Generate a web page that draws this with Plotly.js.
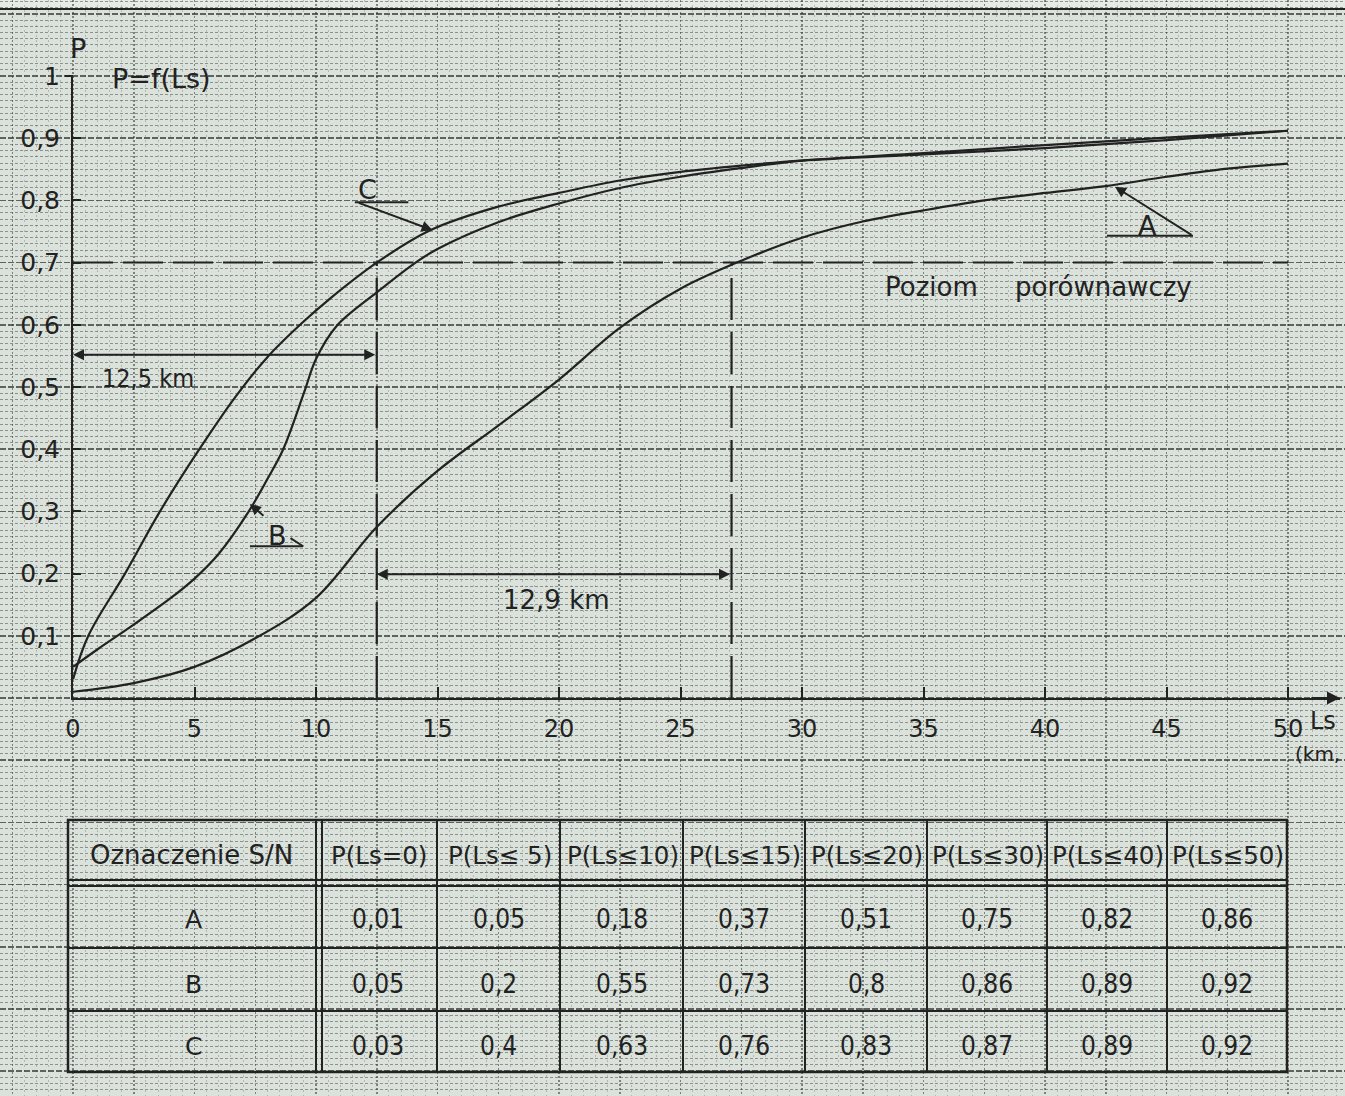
<!DOCTYPE html>
<html>
<head>
<meta charset="utf-8">
<script src="https://cdn.plot.ly/plotly-3.0.1.min.js"></script>
<style>html,body{margin:0;padding:0;background:#dbe2dc;} #chart{width:1345px;height:1096px;}</style>
</head>
<body>
<div id="chart"></div>
<script>
// ---------------- data ----------------
const lsA = [0, 2.5, 5, 7.5, 10, 12.5, 15, 17.5, 20, 22.5, 25, 27.5, 30, 32.5, 35, 37.5, 40, 42.5, 45, 47.5, 50];
const pA  = [0.01, 0.024, 0.05, 0.096, 0.161, 0.275, 0.365, 0.438, 0.512, 0.595, 0.658, 0.703, 0.74, 0.766, 0.784, 0.80, 0.812, 0.823, 0.838, 0.851, 0.859];

const lsB = [0, 1, 2.5, 4, 5, 6, 7.2, 8, 8.65, 9.5, 10, 10.85, 12.5, 14.1, 15, 17.5, 20, 22.5, 25, 27.5, 30, 35, 40, 45, 50];
const pB  = [0.05, 0.078, 0.118, 0.16, 0.192, 0.232, 0.298, 0.352, 0.40, 0.49, 0.545, 0.598, 0.652, 0.70, 0.722, 0.765, 0.795, 0.82, 0.838, 0.852, 0.864, 0.876, 0.889, 0.901, 0.912];

const lsC = [0, 0.63, 2.14, 3.58, 5.2, 6.7, 8, 9.4, 10.6, 12.5, 14.7, 17.5, 20, 22.5, 25, 27.5, 30, 35, 40, 45, 50];
const pC  = [0.03, 0.1, 0.2, 0.3, 0.4, 0.485, 0.548, 0.602, 0.643, 0.70, 0.752, 0.79, 0.812, 0.832, 0.846, 0.856, 0.864, 0.874, 0.884, 0.897, 0.912];

const refLevel = 0.7;            // "Poziom porównawczy"
const refSpan = [0, 50];
const markC = 12.5;              // C reaches the level
const markA = 27.1;              // A reaches the level
const arrow125Level = 0.552;
const arrow129Level = 0.199;

const xTickVals = [0, 5, 10, 15, 20, 25, 30, 35, 40, 45, 50];
const xTickText = ['0', '5', '10', '15', '20', '25', '30', '35', '40', '45', '50'];
const yTickVals = [0.1, 0.2, 0.3, 0.4, 0.5, 0.6, 0.7, 0.8, 0.9, 1];
const yTickText = ['0,1', '0,2', '0,3', '0,4', '0,5', '0,6', '0,7', '0,8', '0,9', '1'];

const tableHeader = ['Oznaczenie S/N', 'P(Ls=0)', 'P(Ls≤ 5)', 'P(Ls≤10)', 'P(Ls≤15)', 'P(Ls≤20)', 'P(Ls≤30)', 'P(Ls≤40)', 'P(Ls≤50)'];
const tableRows = ['A', 'B', 'C'];
const tableA = [0.01, 0.05, 0.18, 0.37, 0.51, 0.75, 0.82, 0.86];
const tableB = [0.05, 0.2, 0.55, 0.73, 0.8, 0.86, 0.89, 0.92];
const tableC = [0.03, 0.4, 0.63, 0.76, 0.83, 0.87, 0.89, 0.92];

// ---------------- styling ----------------
const W = 1345, H = 1096;
const FONT = 'DejaVu Sans, sans-serif';
const FONTC = 'DejaVu Sans Condensed, DejaVu Sans, sans-serif';
const INK = '#222222';
const PAPER = '#dbe2dc';
const X0 = 73, XEND = 1340, PX_PER_X = 24.3;
const Y0 = 698, YTOP = 76;

const curveLine = {color: INK, width: 2.2, shape: 'spline', smoothing: 1};
const traces = [
  {x: lsA, y: pA, mode: 'lines', line: curveLine, xaxis: 'x2', yaxis: 'y2', name: 'A', hoverinfo: 'x+y'},
  {x: lsB, y: pB, mode: 'lines', line: curveLine, xaxis: 'x2', yaxis: 'y2', name: 'B', hoverinfo: 'x+y'},
  {x: lsC, y: pC, mode: 'lines', line: curveLine, xaxis: 'x2', yaxis: 'y2', name: 'C', hoverinfo: 'x+y'},
  {x: refSpan, y: [refLevel, refLevel], mode: 'lines', line: {color: INK, width: 2, dash: '40px,10px'}, xaxis: 'x2', yaxis: 'y2', hoverinfo: 'skip'},
  {x: [markC, markC], y: [0, refLevel], mode: 'lines', line: {color: INK, width: 2.2, dash: '42px,12px'}, xaxis: 'x2', yaxis: 'y2', hoverinfo: 'skip'},
  {x: [markA, markA], y: [0, refLevel], mode: 'lines', line: {color: INK, width: 2.2, dash: '42px,12px'}, xaxis: 'x2', yaxis: 'y2', hoverinfo: 'skip'}
];

const shapes = [];
const annotations = [];
function bgLine(x0, y0, x1, y1, w) {
  shapes.push({type: 'line', xref: 'x', yref: 'y', x0, y0, x1, y1, line: {color: INK, width: w || 2}, layer: 'above'});
}
function dLine(x0, y0, x1, y1, w) {
  shapes.push({type: 'line', xref: 'x2', yref: 'y2', x0, y0, x1, y1, line: {color: INK, width: w || 2}, layer: 'above'});
}
function bgText(text, x, y, size, anchor, fam) {
  annotations.push({text, x, y, xref: 'x', yref: 'y', showarrow: false, xanchor: anchor || 'center', yanchor: 'middle',
    font: {family: fam || FONT, size: size || 24, color: INK}});
}
function dText(text, x, y, size, fam) {
  annotations.push({text, x, y, xref: 'x2', yref: 'y2', showarrow: false, xanchor: 'center', yanchor: 'middle',
    font: {family: fam || FONT, size: size || 25, color: INK}});
}
function dArrow(xh, yh, xt, yt, both) {
  annotations.push({text: '', x: xh, y: yh, ax: xt, ay: yt, xref: 'x2', yref: 'y2', axref: 'x2', ayref: 'y2',
    showarrow: true, arrowhead: 2, startarrowhead: 2, arrowside: both ? 'end+start' : 'end',
    arrowsize: 1.1, startarrowsize: 1.1, arrowwidth: 2, arrowcolor: INK});
}

// top strip of the scanned sheet
shapes.push({type: 'rect', xref: 'paper', yref: 'paper', x0: 0, x1: 1, y0: 1 - 8 / H, y1: 1, fillcolor: '#e6ebe6', line: {width: 0}, layer: 'below'});
bgLine(0, 9, W, 9, 2);

// "T" at the top of the P axis
bgLine(65, YTOP, 73, YTOP, 2);

// axis captions
bgText('P', 78, 48, 27);
bgText('P=f(Ls)', 161, 78, 27);
bgText('Ls', 1308, 721, 24, 'left');
bgText('(km,', 1293, 754, 20, 'left');
// x-axis arrow head
annotations.push({text: '', x: 52.14, y: 0, ax: 50.9, ay: 0, xref: 'x2', yref: 'y2', axref: 'x2', ayref: 'y2',
  showarrow: true, arrowhead: 2, arrowsize: 1.3, arrowwidth: 2, arrowcolor: INK});

// distance arrows + labels
dArrow(0, arrow125Level, markC, arrow125Level, true);
dText('12,5 km', 3.1, 0.514, 25, FONTC);
dArrow(markC, arrow129Level, markA, arrow129Level, true);
dText('12,9 km', 19.9, 0.158, 26);

// comparison level text
bgText('Poziom', 931, 287, 26);
bgText('porównawczy', 1103, 287, 26);

// curve labels
dText('C', 12.1, 0.818, 27);
dLine(11.6, 0.797, 13.8, 0.797, 2);
dArrow(14.8, 0.752, 11.7, 0.797, false);

dText('B', 8.4, 0.262, 27);
dLine(7.28, 0.244, 9.47, 0.244, 2);
dLine(8.95, 0.257, 9.47, 0.244, 2);
dArrow(7.28, 0.312, 7.9, 0.291, false);

dText('A', 44.2, 0.760, 27);
dLine(42.55, 0.743, 46.09, 0.743, 2);
dArrow(42.88, 0.822, 46.09, 0.743, false);

// ---------------- table (pixel coordinates of the sheet) ----------------
const colEdges = [68, 319, 437, 560, 683, 805, 927, 1047, 1167, 1287];
const rowEdges = [820, 883, 948, 1011, 1072];
shapes.push({type: 'rect', xref: 'x', yref: 'y', x0: colEdges[0], x1: colEdges[9], y0: rowEdges[0], y1: rowEdges[4],
  line: {color: INK, width: 2.5}, layer: 'above'});
bgLine(colEdges[0], rowEdges[1] - 3, colEdges[9], rowEdges[1] - 3, 2);
bgLine(colEdges[0], rowEdges[1] + 3, colEdges[9], rowEdges[1] + 3, 2);
bgLine(colEdges[0], rowEdges[2], colEdges[9], rowEdges[2], 2);
bgLine(colEdges[0], rowEdges[3], colEdges[9], rowEdges[3], 2);
bgLine(colEdges[1] - 3, rowEdges[0], colEdges[1] - 3, rowEdges[4], 2);
bgLine(colEdges[1] + 3, rowEdges[0], colEdges[1] + 3, rowEdges[4], 2);
for (let i = 2; i < 9; i++) bgLine(colEdges[i], rowEdges[0], colEdges[i], rowEdges[4], 2);

const fmt = v => String(v).replace('.', ',');
const rowCenters = [855, 919, 984, 1046];
tableHeader.forEach((h, i) => {
  bgText(h, (colEdges[i] + colEdges[i + 1]) / 2 + (i === 0 ? -2 : 1), rowCenters[0], i === 0 ? 26 : 24.5);
});
[tableA, tableB, tableC].forEach((vals, r) => {
  bgText(tableRows[r], (colEdges[0] + colEdges[1]) / 2, rowCenters[r + 1], 25);
  vals.forEach((v, c) => bgText(fmt(v), (colEdges[c + 1] + colEdges[c + 2]) / 2, rowCenters[r + 1], 26, 'center', FONTC));
});

// ---------------- layout ----------------
const layout = {
  width: W, height: H,
  margin: {l: 0, r: 0, t: 0, b: 0, pad: 0},
  paper_bgcolor: PAPER, plot_bgcolor: 'rgba(0,0,0,0)',
  showlegend: false,
  // graph-paper sheet (pixel units)
  xaxis: {domain: [0, 1], range: [0, W], showticklabels: false, ticks: '', zeroline: false, showline: false, fixedrange: true,
    showgrid: true, tick0: X0, dtick: 60.75, gridcolor: 'rgba(45,50,45,0.55)', gridwidth: 1.5, griddash: '2px,2px',
    minor: {showgrid: true, tick0: X0, dtick: 12.15, gridcolor: 'rgba(70,75,70,0.28)', gridwidth: 1, griddash: '2px,3px'}},
  yaxis: {domain: [0, 1], range: [H, 0], showticklabels: false, ticks: '', zeroline: false, showline: false, fixedrange: true,
    showgrid: true, tick0: Y0, dtick: 62.2, gridcolor: 'rgba(40,45,40,0.7)', gridwidth: 1.5, griddash: '6px,2px',
    minor: {showgrid: true, tick0: Y0, dtick: 6.22, gridcolor: 'rgba(60,65,60,0.5)', gridwidth: 1, griddash: '3px,2px'}},
  // chart axes
  xaxis2: {domain: [X0 / W, XEND / W], anchor: 'y2', range: [0, (XEND - X0) / PX_PER_X], fixedrange: true,
    showgrid: false, zeroline: false, showline: true, linecolor: INK, linewidth: 2,
    ticks: 'inside', ticklen: 11, tickwidth: 2, tickcolor: INK,
    tickvals: xTickVals, ticktext: xTickText, ticklabelstandoff: 8,
    tickfont: {family: FONT, size: 24, color: INK}},
  yaxis2: {domain: [(H - Y0) / H, (H - YTOP) / H], anchor: 'x2', range: [0, 1], fixedrange: true,
    showgrid: false, zeroline: false, showline: true, linecolor: INK, linewidth: 2,
    ticks: 'inside', ticklen: 8, tickwidth: 2, tickcolor: INK,
    tickvals: yTickVals, ticktext: yTickText, ticklabelstandoff: 6,
    tickfont: {family: FONT, size: 25, color: INK}},
  shapes, annotations
};

Plotly.newPlot('chart', traces, layout, {displayModeBar: false, staticPlot: true});
</script>
</body>
</html>
